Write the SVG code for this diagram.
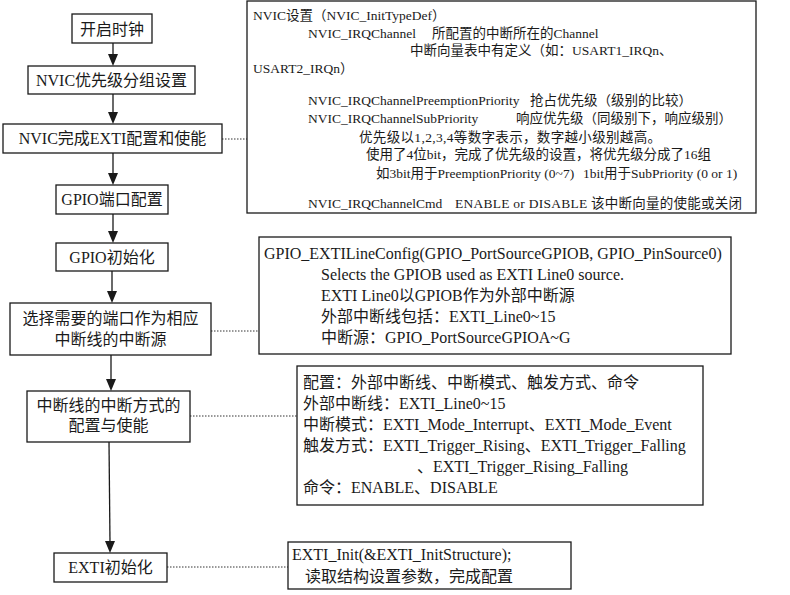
<svg xmlns="http://www.w3.org/2000/svg" width="790" height="595" viewBox="0 0 790 595">
<defs>
<style>
.bg{fill:#ffffff}
.box{fill:#ffffff;stroke:#1a1a1a;stroke-width:1.3}
.note{fill:#ffffff;stroke:#1a1a1a;stroke-width:1.3}
.t{font-family:"Liberation Serif","Noto Sans CJK SC",serif;fill:#1a1a1a}
.f16{font-size:16px}
.f14{font-size:13.5px}
.c{text-anchor:middle}
.arrow{stroke:#1a1a1a;stroke-width:1.3;fill:none}
.head{fill:#1a1a1a}
.dot{stroke:#333333;stroke-width:1;stroke-dasharray:1.5 1.5;fill:none}
</style>
</defs>
<rect class="bg" x="0" y="0" width="790" height="595"/>

<g id="connectors">
<line class="arrow" x1="113" y1="43" x2="113" y2="56"/>
<path class="head" d="M108,54 L118,54 L113,66 Z"/>
<line class="arrow" x1="113" y1="94" x2="113" y2="114"/>
<path class="head" d="M108,112 L118,112 L113,124 Z"/>
<line class="arrow" x1="113" y1="153" x2="113" y2="175"/>
<path class="head" d="M108,173 L118,173 L113,185 Z"/>
<line class="arrow" x1="113" y1="214" x2="113" y2="233"/>
<path class="head" d="M108,231 L118,231 L113,243 Z"/>
<line class="arrow" x1="112" y1="271" x2="112" y2="293"/>
<path class="head" d="M107,291 L117,291 L112,303 Z"/>
<line class="arrow" x1="111" y1="355" x2="111" y2="381"/>
<path class="head" d="M106,379 L116,379 L111,391 Z"/>
<line class="arrow" x1="109" y1="442" x2="110" y2="543"/>
<path class="head" d="M105,541 L115,541 L110,553 Z"/>
<line class="dot" x1="222" y1="139" x2="247" y2="139"/>
<line class="dot" x1="211" y1="331" x2="259" y2="331"/>
<line class="dot" x1="190" y1="416" x2="297" y2="416"/>
<line class="dot" x1="167" y1="567" x2="288" y2="567"/>
</g>

<g id="n1">
<rect class="box" x="72" y="14" width="80" height="29"/>
<text class="t f16 c" x="112" y="34.5">开启时钟</text>
</g>
<g id="n2">
<rect class="box" x="28" y="66" width="167" height="28"/>
<text class="t f16 c" x="111.5" y="85.5">NVIC优先级分组设置</text>
</g>
<g id="n3">
<rect class="box" x="3" y="124" width="219" height="29"/>
<text class="t f16 c" x="112.5" y="144">NVIC完成EXTI配置和使能</text>
</g>
<g id="n4">
<rect class="box" x="56" y="185" width="112" height="29"/>
<text class="t f16 c" x="112" y="205">GPIO端口配置</text>
</g>
<g id="n5">
<rect class="box" x="56" y="243" width="112" height="28"/>
<text class="t f16 c" x="112" y="262.5">GPIO初始化</text>
</g>
<g id="n6">
<rect class="box" x="10" y="303" width="201" height="52"/>
<text class="t f16 c" x="110.5" y="323.5">选择需要的端口作为相应</text>
<text class="t f16 c" x="110.5" y="344.5">中断线的中断源</text>
</g>
<g id="n7">
<rect class="box" x="27" y="391" width="163" height="51"/>
<text class="t f16 c" x="108.5" y="410.5">中断线的中断方式的</text>
<text class="t f16 c" x="108.5" y="430.5">配置与使能</text>
</g>
<g id="n8">
<rect class="box" x="54" y="553" width="113" height="29"/>
<text class="t f16 c" x="110.5" y="573">EXTI初始化</text>
</g>

<g id="note-nvic">
<rect class="note" x="247" y="1" width="509" height="212"/>
<text class="t f14" x="253" y="20">NVIC设置（NVIC_InitTypeDef）</text>
<text class="t f14" x="308" y="38">NVIC_IRQChannel</text>
<text class="t f14" x="432" y="38">所配置的中断所在的Channel</text>
<text class="t f14" x="410" y="55">中断向量表中有定义（如：USART1_IRQn、</text>
<text class="t f14" x="253" y="73">USART2_IRQn）</text>
<text class="t f14" x="308" y="105">NVIC_IRQChannelPreemptionPriority</text>
<text class="t f14" x="530" y="105">抢占优先级（级别的比较）</text>
<text class="t f14" x="308" y="123">NVIC_IRQChannelSubPriority</text>
<text class="t f14" x="516" y="123">响应优先级（同级别下，响应级别）</text>
<text class="t f14" x="359" y="142" textLength="302">优先级以1,2,3,4等数字表示，数字越小级别越高。</text>
<text class="t f14" x="366" y="159">使用了4位bit，完成了优先级的设置，将优先级分成了16组</text>
<text class="t f14" x="376" y="178">如3bit用于PreemptionPriority (0~7)</text>
<text class="t f14" x="583" y="178">1bit用于SubPriority (0 or 1)</text>
<text class="t f14" x="308" y="208">NVIC_IRQChannelCmd</text>
<text class="t f14" x="455" y="208" textLength="287">ENABLE  or  DISABLE 该中断向量的使能或关闭</text>
</g>

<g id="note-gpio">
<rect class="note" x="259" y="237" width="472" height="117"/>
<text class="t f16" x="264" y="258.5">GPIO_EXTILineConfig(GPIO_PortSourceGPIOB, GPIO_PinSource0)</text>
<text class="t f16" x="321" y="279.5">Selects the GPIOB used as EXTI Line0 source.</text>
<text class="t f16" x="321" y="300.5">EXTI Line0以GPIOB作为外部中断源</text>
<text class="t f16" x="321" y="321.5">外部中断线包括：EXTI_Line0~15</text>
<text class="t f16" x="321" y="342.5">中断源：GPIO_PortSourceGPIOA~G</text>
</g>

<g id="note-exti-config">
<rect class="note" x="297" y="366" width="406" height="139"/>
<text class="t f16" x="303" y="387.5">配置：外部中断线、中断模式、触发方式、命令</text>
<text class="t f16" x="303" y="408.5">外部中断线：EXTI_Line0~15</text>
<text class="t f16" x="303" y="429.5">中断模式：EXTI_Mode_Interrupt、EXTI_Mode_Event</text>
<text class="t f16" x="303" y="450.5">触发方式：EXTI_Trigger_Rising、EXTI_Trigger_Falling</text>
<text class="t f16" x="417" y="471.5">、EXTI_Trigger_Rising_Falling</text>
<text class="t f16" x="303" y="492.5">命令：ENABLE、DISABLE</text>
</g>

<g id="note-exti-init">
<rect class="note" x="288" y="542" width="283" height="47"/>
<text class="t f16" x="292" y="559.5">EXTI_Init(&amp;EXTI_InitStructure);</text>
<text class="t f16" x="305" y="581.5">读取结构设置参数，完成配置</text>
</g>
</svg>
